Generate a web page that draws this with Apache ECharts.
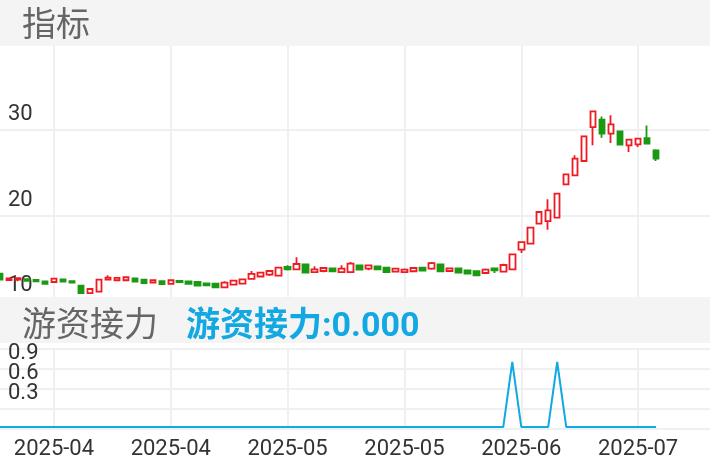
<!DOCTYPE html>
<html>
<head>
<meta charset="utf-8">
<script src="https://cdn.jsdelivr.net/npm/echarts@6/dist/echarts.min.js"></script>
<style>
html,body{margin:0;padding:0;background:#fff;}
#c{width:710px;height:472px;}
</style>
</head>
<body>
<div id="c"></div>
<script>
// ---- data ----
const dates = [
  '2025-03-24','2025-03-25','2025-03-26','2025-03-27','2025-03-28','2025-03-31',
  '2025-04-01','2025-04-02','2025-04-03','2025-04-07','2025-04-08','2025-04-09','2025-04-10','2025-04-11',
  '2025-04-14','2025-04-15','2025-04-16','2025-04-17','2025-04-18','2025-04-21','2025-04-22','2025-04-23',
  '2025-04-24','2025-04-25','2025-04-28','2025-04-29','2025-04-30',
  '2025-05-06','2025-05-07','2025-05-08','2025-05-09','2025-05-12','2025-05-13','2025-05-14','2025-05-15',
  '2025-05-16','2025-05-19','2025-05-20','2025-05-21','2025-05-22','2025-05-23','2025-05-26','2025-05-27',
  '2025-05-28','2025-05-29','2025-05-30',
  '2025-06-03','2025-06-04','2025-06-05','2025-06-06','2025-06-09','2025-06-10','2025-06-11','2025-06-12',
  '2025-06-13','2025-06-16','2025-06-17','2025-06-18','2025-06-19','2025-06-20','2025-06-23','2025-06-24',
  '2025-06-25','2025-06-26','2025-06-27','2025-06-30',
  '2025-07-01','2025-07-02','2025-07-03','2025-07-04','2025-07-07','2025-07-08','2025-07-09','2025-07-10'
];
const openV = [
  13.20,12.45,12.50,12.55,12.45,12.30,12.22,12.53,12.33,11.80,
  10.93,11.10,12.50,12.42,12.42,12.65,12.50,12.15,12.33,12.00,
  12.35,12.30,12.24,12.05,12.03,11.60,11.91,12.03,12.59,12.86,
  13.08,12.96,13.97,13.70,14.26,13.38,13.50,13.80,13.38,13.38,
  14.17,13.78,14.05,13.90,13.43,13.38,13.47,13.90,13.78,14.28,
  13.50,13.82,13.58,13.47,13.27,13.82,13.43,13.70,16.00,16.70,
  19.03,19.33,19.73,23.62,24.67,26.34,30.30,31.17,29.53,29.80,
  28.17,28.28,29.02,27.58
];
const closeV = [
  12.50,12.65,12.68,12.35,12.28,12.00,12.61,12.26,12.15,10.93,
  11.40,12.50,12.73,12.69,12.77,12.26,12.10,12.42,11.98,12.42,
  12.20,12.00,11.80,11.82,11.60,12.15,12.38,12.53,13.17,13.31,
  13.50,13.90,13.70,14.32,13.31,13.70,13.85,13.47,13.78,14.36,
  13.66,14.17,13.70,13.38,13.78,13.66,13.85,13.55,14.42,13.47,
  13.82,13.31,13.20,13.00,13.66,13.58,14.20,15.45,16.88,18.56,
  20.39,20.58,22.53,24.78,26.62,29.22,32.14,29.53,30.62,28.25,
  28.83,28.95,28.37,26.62
];
const lowV = [
  12.45,12.40,12.30,12.30,12.20,11.95,12.20,12.22,12.12,10.90,
  10.88,11.05,12.48,12.33,12.40,12.22,12.06,12.12,11.95,11.97,
  12.16,11.96,11.76,11.78,11.56,11.52,11.88,12.00,12.57,12.83,
  12.92,12.93,13.55,13.68,13.28,13.35,13.35,13.44,13.35,13.27,
  13.63,13.58,13.67,13.35,13.40,13.35,13.44,13.52,13.66,13.44,
  13.47,13.20,13.17,12.97,13.20,13.27,13.40,13.68,15.60,16.68,
  19.00,18.33,19.70,23.50,24.64,26.30,28.17,29.07,28.44,28.22,
  27.39,27.97,28.28,26.34
];
const highV = [
  13.25,12.70,12.72,12.60,12.50,12.32,12.64,12.55,12.35,11.82,
  11.45,12.52,13.00,12.72,12.80,12.68,12.52,12.45,12.35,12.45,
  12.38,12.32,12.26,12.08,12.05,12.30,12.42,12.56,13.50,13.40,
  13.52,13.93,14.17,15.10,14.28,14.05,13.88,13.82,14.17,14.55,
  14.20,14.20,14.08,13.92,13.81,13.80,13.88,13.92,14.55,14.30,
  13.85,13.84,13.60,13.50,13.78,13.85,14.36,15.48,16.90,18.60,
  20.42,21.87,22.56,24.80,27.00,29.25,32.17,31.55,31.67,29.83,
  28.86,29.07,30.50,27.70
];
const relay = [
  0,0,0,0,0,0,0,0,0,0, 0,0,0,0,0,0,0,0,0,0,
  0,0,0,0,0,0,0,0,0,0, 0,0,0,0,0,0,0,0,0,0,
  0,0,0,0,0,0,0,0,0,0, 0,0,0,0,0,0,0,1,0,0,
  0,0,1,0,0,0,0,0,0,0, 0,0,0,0
];
const mainTicks = [10, 20, 30];
const relayTicks = [0.3, 0.6, 0.9];
const emptySlots = 6;

// ---- chart ----
const FONT = 'Roboto, "Noto Sans CJK SC", sans-serif';
const UP = '#f01a22', DOWN = '#1a9a12', BLUE = '#12a8e2', GRIDC = '#eff0f2', BAND = '#f4f4f4';
const cats = dates.concat(new Array(emptySlots).fill(''));
const candle = dates.map((d, i) => [openV[i], closeV[i], lowV[i], highV[i]]);
const showIdx = (i) => i >= 6 && (i - 6) % 13 === 0;
const isTick = (v, list) => list.some(t => Math.abs(t - v) < 1e-6);
// relay tick labels split over two overlaid axes so none is dropped by overlap hiding
const relayTicksA = relayTicks.filter((t, k) => k % 2 === 0);
const relayTicksB = relayTicks.filter((t, k) => k % 2 === 1);

const relayLabel = (list) => ({
  inside: true, margin: 8, color: '#333', fontSize: 22, fontFamily: FONT,
  verticalAlign: 'top', lineHeight: 9, showMaxLabel: true, showMinLabel: true,
  formatter: (v) => isTick(v, list) ? v.toFixed(1) : ''
});

const chart = echarts.init(document.getElementById('c'), null, {renderer: 'canvas'});
chart.setOption({
  animation: false,
  backgroundColor: '#ffffff',
  grid: [
    {left: 0, right: 0, top: 44, height: 257},
    {left: 0, right: 0, top: 349, height: 80}
  ],
  xAxis: [
    {type: 'category', gridIndex: 0, data: cats, boundaryGap: false,
     axisLine: {show: false}, axisTick: {show: false}, axisLabel: {show: false},
     splitLine: {show: true, interval: (i) => showIdx(i), lineStyle: {color: GRIDC, width: 2}}},
    {type: 'category', gridIndex: 1, data: cats, boundaryGap: false,
     axisLine: {show: false}, axisTick: {show: false},
     axisLabel: {show: true, interval: (i) => showIdx(i), formatter: (v) => v.slice(0, 7),
                 color: '#333', fontSize: 22, fontFamily: FONT, margin: 9},
     splitLine: {show: true, interval: (i) => showIdx(i), lineStyle: {color: GRIDC, width: 2}}}
  ],
  yAxis: [
    {type: 'value', gridIndex: 0, position: 'left', min: 10, max: 40, interval: 10,
     axisLine: {show: false}, axisTick: {show: false},
     splitLine: {show: true, lineStyle: {color: GRIDC, width: 2}},
     axisLabel: {inside: true, margin: 8, color: '#333', fontSize: 22, fontFamily: FONT,
                 verticalAlign: 'bottom', padding: [0, 0, 4, 0],
                 formatter: (v) => mainTicks.includes(v) ? String(v) : ''}},
    {type: 'value', gridIndex: 1, position: 'left', offset: 0, min: -0.3, max: 0.9, interval: 0.3,
     axisLine: {show: false}, axisTick: {show: false},
     splitLine: {show: true, lineStyle: {color: GRIDC, width: 2}},
     axisLabel: relayLabel(relayTicksA)},
    {type: 'value', gridIndex: 1, position: 'left', offset: 0, min: -0.3, max: 0.9, interval: 0.3,
     axisLine: {show: false}, axisTick: {show: false}, splitLine: {show: false},
     axisLabel: relayLabel(relayTicksB)},
    {type: 'value', gridIndex: 1, position: 'right', min: -0.031, max: 1.2, show: false}
  ],
  series: [
    {type: 'candlestick', xAxisIndex: 0, yAxisIndex: 0, data: candle, barWidth: 6,
     itemStyle: {color: '#ffffff', color0: DOWN, borderColor: UP, borderColor0: DOWN, borderWidth: 1.8}},
    {type: 'line', xAxisIndex: 1, yAxisIndex: 3, data: relay, symbol: 'none',
     lineStyle: {color: BLUE, width: 2}, itemStyle: {color: BLUE}}
  ],
  graphic: [
    {type: 'rect', z: 100, shape: {x: 0, y: 0, width: 710, height: 46}, style: {fill: BAND}},
    {type: 'text', z: 101, x: 22, y: 27,
     style: {text: '指标', fill: '#666', fontSize: 34, fontFamily: FONT, verticalAlign: 'middle'}},
    {type: 'rect', z: 100, shape: {x: 0, y: 297, width: 710, height: 46}, style: {fill: BAND}},
    {type: 'text', z: 101, x: 22, y: 327,
     style: {text: '游资接力', fill: '#666', fontSize: 34, fontFamily: FONT, verticalAlign: 'middle'}},
    {type: 'text', z: 101, x: 186, y: 327,
     style: {text: '游资接力:' + relay[relay.length - 1].toFixed(3), fill: BLUE, fontSize: 34,
             fontWeight: 'bold', fontFamily: FONT, verticalAlign: 'middle'}}
  ]
});
</script>
</body>
</html>
